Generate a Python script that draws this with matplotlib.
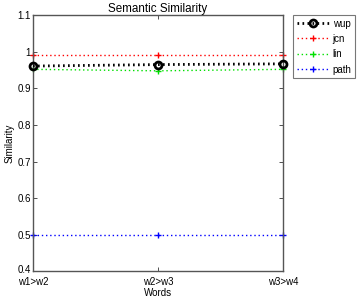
import matplotlib
matplotlib.use("Agg")
import matplotlib.pyplot as plt
import matplotlib.transforms as mtransforms

plt.rcParams["font.family"] = ["Liberation Sans", "DejaVu Sans"]
plt.rcParams["font.size"] = 7

words = ["w1>w2", "w2>w3", "w3>w4"]
wup = [0.961, 0.965, 0.967]
jcn = [0.99, 0.99, 0.99]
lin = [0.952, 0.948, 0.952]
path = [0.5, 0.5, 0.5]

x = list(range(len(words)))

fig = plt.figure(figsize=(3.63, 3.03), dpi=100)
ax = fig.add_axes([0.091, 0.104, 0.689, 0.846])

dots = (0, (1.0, 2.0))
ax.plot(x, jcn, color="red", linestyle=dots, linewidth=1.0, marker="+",
        markersize=5, markeredgewidth=1.0, label="jcn", clip_on=False)
ax.plot(x, lin, color="#00e000", linestyle=dots, linewidth=1.0, marker="+",
        markersize=5, markeredgewidth=1.0, label="lin", clip_on=False)
ax.plot(x, path, color="blue", linestyle=dots, linewidth=1.0, marker="+",
        markersize=5, markeredgewidth=1.0, label="path", clip_on=False)
ax.plot(x, wup, color="black", linestyle=(0, (0.6, 1.2)), linewidth=2.0, marker="o",
        markersize=5, markerfacecolor="none", markeredgewidth=2.0, label="wup",
        clip_on=False, zorder=4)

ax.set_xlim(0, 2)
ax.set_ylim(0.4, 1.1)
ax.set_xticks(x)
ax.set_xticklabels(words)
ax.set_yticks([0.4, 0.5, 0.6, 0.7, 0.8, 0.9, 1.0, 1.1])
ax.set_yticklabels(["0.4", "0.5", "0.6", "0.7", "0.8", "0.9", "1", "1.1"])
ax.tick_params(direction="in", length=3, width=0.6, pad=1.5, top=True, right=True,
               colors="#333333", labelcolor="black")
ax.tick_params(axis="x", pad=4)
for s in ax.spines.values():
    s.set_color("#555555")
    s.set_linewidth(1.0)

# lift the bottom y label a little so it clears the first x label
lbl = ax.get_yticklabels()[0]
lbl.set_transform(lbl.get_transform() + mtransforms.ScaledTranslation(0, 2 / 72, fig.dpi_scale_trans))

ax.set_title("Semantic Similarity", pad=2)
ax.set_xlabel("Words", labelpad=1)
ax.set_ylabel("Similarity", labelpad=2)

handles, labels = ax.get_legend_handles_labels()
order = [3, 0, 1, 2]
leg = ax.legend([handles[i] for i in order], [labels[i] for i in order],
                loc="upper left", bbox_to_anchor=(1.04, 1.0), frameon=True,
                fancybox=False, handlelength=3.4, borderpad=0.35, labelspacing=0.55,
                handletextpad=0.3, borderaxespad=0, fontsize=7)
leg.get_frame().set_edgecolor("#555555")
leg.get_frame().set_linewidth(0.8)

fig.savefig("out.png", dpi=100)
